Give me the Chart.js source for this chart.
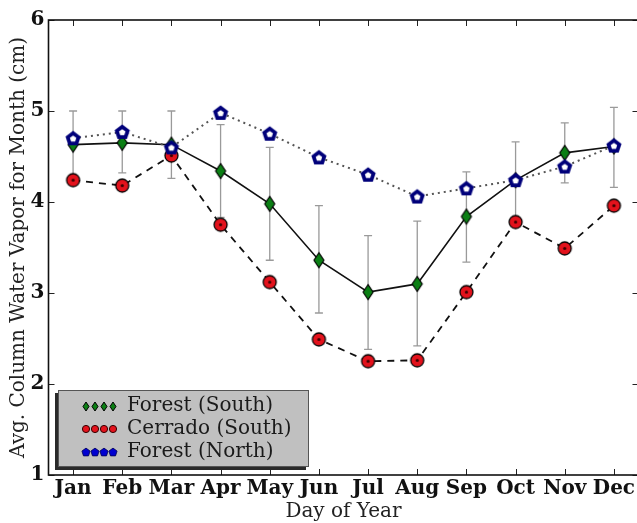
<!DOCTYPE html>
<html>
<head>
<meta charset="utf-8">
<script src="https://cdn.jsdelivr.net/npm/chart.js@4/dist/chart.umd.min.js"></script>
<style>
  html, body { margin: 0; padding: 0; background: #fff; overflow: hidden; }
  #wrap { width: 640px; height: 523px; }
</style>
</head>
<body>
<div id="wrap"><canvas id="c" width="640" height="523"></canvas></div>
<script>
// ---- Data ----
const months = ['Jan','Feb','Mar','Apr','May','Jun','Jul','Aug','Sep','Oct','Nov','Dec'];
const forestSouth     = [4.63, 4.65, 4.63, 4.34, 3.98, 3.36, 3.01, 3.10, 3.84, 4.24, 4.54, 4.61];
const forestSouthHigh = [5.00, 5.00, 5.00, 4.85, 4.60, 3.96, 3.63, 3.79, 4.33, 4.66, 4.87, 5.04];
const forestSouthLow  = [4.26, 4.32, 4.26, 3.83, 3.36, 2.78, 2.38, 2.42, 3.34, 3.82, 4.21, 4.16];
const cerradoSouth    = [4.24, 4.18, 4.51, 3.75, 3.12, 2.49, 2.25, 2.26, 3.01, 3.78, 3.49, 3.96];
const forestNorth     = [4.70, 4.77, 4.60, 4.98, 4.75, 4.49, 4.30, 4.06, 4.15, 4.24, 4.39, 4.62];
const seriesLabels    = ['Forest (South)', 'Cerrado (South)', 'Forest (North)'];
const yTicks          = [1, 2, 3, 4, 5, 6];

const SERIF = '"DejaVu Serif", "Liberation Serif", serif';

// ---- Marker images ----
function mk(w, h, draw) {
  const c = document.createElement('canvas');
  c.width = w; c.height = h;
  draw(c.getContext('2d'), w, h);
  return c;
}
function pentPath(ctx, cx, cy, r) {
  ctx.beginPath();
  for (let i = 0; i < 5; i++) {
    const a = -Math.PI / 2 + i * 2 * Math.PI / 5;
    const x = cx + r * Math.cos(a), y = cy + r * Math.sin(a);
    i ? ctx.lineTo(x, y) : ctx.moveTo(x, y);
  }
  ctx.closePath();
}
function diamond(ctx, cx, cy, hw, hh) {
  ctx.beginPath();
  ctx.moveTo(cx, cy - hh); ctx.lineTo(cx + hw, cy);
  ctx.lineTo(cx, cy + hh); ctx.lineTo(cx - hw, cy);
  ctx.closePath();
}
const greenMarker = mk(14, 18, (ctx) => {
  diamond(ctx, 7, 9, 5, 7.5);
  ctx.fillStyle = '#0b7f14'; ctx.fill();
  ctx.lineWidth = 1.2; ctx.strokeStyle = '#000'; ctx.stroke();
});
const redMarker = mk(17, 17, (ctx) => {
  ctx.beginPath(); ctx.arc(8.5, 8.5, 6.5, 0, Math.PI * 2);
  ctx.fillStyle = '#e3121c'; ctx.fill();
  ctx.lineWidth = 1.3; ctx.strokeStyle = '#000'; ctx.stroke();
  ctx.beginPath(); ctx.arc(8.5, 8.5, 1.6, 0, Math.PI * 2);
  ctx.fillStyle = '#3a0000'; ctx.fill();
});
const blueMarker = mk(18, 18, (ctx) => {
  pentPath(ctx, 9, 9.6, 8);
  ctx.fillStyle = '#00007a'; ctx.fill();
  pentPath(ctx, 9, 9.6, 3.4);
  ctx.fillStyle = '#ffffff'; ctx.fill();
});
// small legend markers
const greenSmall = mk(8, 11, (ctx) => {
  diamond(ctx, 4, 5.5, 3, 4.5);
  ctx.fillStyle = '#0b7f14'; ctx.fill();
  ctx.lineWidth = 1; ctx.strokeStyle = '#000'; ctx.stroke();
});
const redSmall = mk(10, 10, (ctx) => {
  ctx.beginPath(); ctx.arc(5, 5, 3.6, 0, Math.PI * 2);
  ctx.fillStyle = '#e3121c'; ctx.fill();
  ctx.lineWidth = 1; ctx.strokeStyle = '#300'; ctx.stroke();
});
const blueSmall = mk(10, 10, (ctx) => {
  pentPath(ctx, 5, 5.4, 4.3);
  ctx.fillStyle = '#0000d0'; ctx.fill();
  ctx.lineWidth = 0.8; ctx.strokeStyle = '#000050'; ctx.stroke();
});

// ---- Plugin: error bars, frame, inward ticks, legend ----
const decor = {
  id: 'decor',
  beforeDatasetsDraw(chart) {
    const ctx = chart.ctx, x = chart.scales.x, y = chart.scales.y;
    ctx.save();
    ctx.strokeStyle = '#9a9a9a';
    ctx.lineWidth = 1.3;
    months.forEach((m, i) => {
      const px = x.getPixelForValue(i);
      const pHi = y.getPixelForValue(forestSouthHigh[i]);
      const pLo = y.getPixelForValue(forestSouthLow[i]);
      ctx.beginPath();
      ctx.moveTo(px, pHi); ctx.lineTo(px, pLo);
      ctx.moveTo(px - 4, pHi); ctx.lineTo(px + 4, pHi);
      ctx.moveTo(px - 4, pLo); ctx.lineTo(px + 4, pLo);
      ctx.stroke();
    });
    ctx.restore();
  },
  afterDraw(chart) {
    const ctx = chart.ctx, a = chart.chartArea, x = chart.scales.x, y = chart.scales.y;
    ctx.save();
    // ticks
    ctx.strokeStyle = '#222';
    ctx.lineWidth = 1;
    const tl = 6;
    months.forEach((m, i) => {
      const px = Math.round(x.getPixelForValue(i)) + 0.5;
      ctx.beginPath();
      ctx.moveTo(px, a.bottom); ctx.lineTo(px, a.bottom - tl);
      ctx.moveTo(px, a.top); ctx.lineTo(px, a.top + tl);
      ctx.stroke();
    });
    yTicks.forEach(v => {
      const py = Math.round(y.getPixelForValue(v)) + 0.5;
      ctx.beginPath();
      ctx.moveTo(a.left, py); ctx.lineTo(a.left + tl, py);
      ctx.moveTo(a.right, py); ctx.lineTo(a.right - tl, py);
      ctx.stroke();
    });

    // legend
    const lx = 58, ly = 390, lw = 251, lh = 77;
    ctx.fillStyle = '#2a2a2a';
    ctx.fillRect(lx - 3, ly + 3, lw, lh);
    ctx.fillStyle = '#c0c0c0';
    ctx.fillRect(lx, ly, lw, lh);
    ctx.strokeStyle = '#555';
    ctx.lineWidth = 1;
    ctx.strokeRect(lx + 0.5, ly + 0.5, lw - 1, lh - 1);
    const smalls = [greenSmall, redSmall, blueSmall];
    ctx.font = '20px ' + SERIF;
    ctx.textBaseline = 'middle';
    ctx.textAlign = 'left';
    seriesLabels.forEach((lab, k) => {
      const cy = ly + 16 + k * 23;
      const img = smalls[k];
      for (let j = 0; j < 4; j++) {
        const cx = 86 + j * 9;
        ctx.drawImage(img, Math.round(cx - img.width / 2), Math.round(cy - img.height / 2));
      }
      ctx.fillStyle = '#1a1a1a';
      ctx.fillText(lab, 127, cy);
    });

    // frame
    ctx.strokeStyle = '#111';
    ctx.lineWidth = 1.6;
    ctx.strokeRect(a.left, a.top, a.right - a.left, a.bottom - a.top);
    ctx.restore();
  }
};

new Chart(document.getElementById('c'), {
  type: 'line',
  data: {
    labels: months,
    datasets: [
      {
        label: seriesLabels[0],
        data: forestSouth,
        borderColor: '#111',
        borderWidth: 1.6,
        pointStyle: greenMarker,
        pointRadius: 7,
        pointHoverRadius: 7,
        tension: 0,
        fill: false,
        order: 1
      },
      {
        label: seriesLabels[1],
        data: cerradoSouth,
        borderColor: '#111',
        borderWidth: 1.8,
        borderDash: [7, 6],
        pointStyle: redMarker,
        pointRadius: 7,
        pointHoverRadius: 7,
        tension: 0,
        fill: false,
        order: 2
      },
      {
        label: seriesLabels[2],
        data: forestNorth,
        borderColor: '#555',
        borderWidth: 2,
        borderDash: [2, 4],
        pointStyle: blueMarker,
        pointRadius: 8,
        pointHoverRadius: 8,
        tension: 0,
        fill: false,
        order: 0
      }
    ]
  },
  options: {
    responsive: false,
    animation: false,
    devicePixelRatio: 1,
    layout: { autoPadding: false, padding: { top: 20, right: 1.5, left: 0, bottom: 0 } },
    plugins: { legend: { display: false }, tooltip: { enabled: false } },
    scales: {
      x: {
        type: 'category',
        offset: true,
        grid: { display: false, drawTicks: false },
        border: { display: false },
        ticks: {
          color: '#111',
          font: { family: SERIF, size: 20, weight: 'bold' },
          padding: 2,
          maxRotation: 0,
          autoSkip: false
        },
        title: {
          display: true,
          text: 'Day of Year',
          color: '#222',
          font: { family: SERIF, size: 20 },
          padding: { top: 0, bottom: -1 }
        },
        afterFit(s) { s.height = 48; s.paddingLeft = 0; s.paddingRight = 0; }
      },
      y: {
        min: 1,
        max: 6,
        grid: { display: false, drawTicks: false },
        border: { display: false },
        afterBuildTicks(s) { s.ticks = yTicks.map(v => ({ value: v })); },
        ticks: {
          color: '#111',
          font: { family: SERIF, size: 20, weight: 'bold' },
          padding: 4
        },
        title: {
          display: true,
          text: 'Avg. Column Water Vapor for Month (cm)',
          color: '#222',
          font: { family: SERIF, size: 20 },
          padding: { top: 6.5, bottom: 0 }
        },
        afterFit(s) { s.width = 48.5; s.paddingTop = 0; s.paddingBottom = 0; }
      }
    }
  },
  plugins: [decor]
});
</script>
</body>
</html>
